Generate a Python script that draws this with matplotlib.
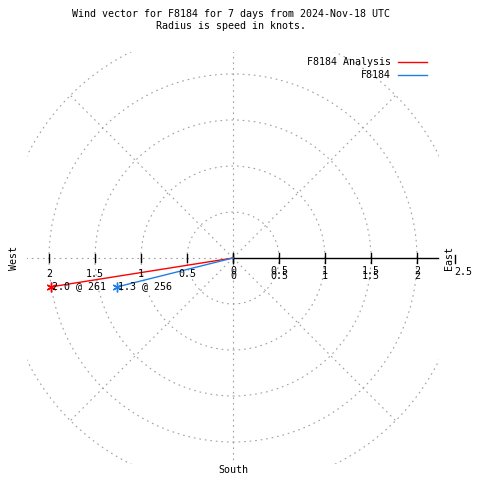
import matplotlib.pyplot as plt
import numpy as np
from matplotlib.lines import Line2D
from matplotlib.patches import Circle
from matplotlib.transforms import Bbox, TransformedBbox

# wind vectors: speed in knots, direction in compass degrees
series_names = ['F8184 Analysis', 'F8184']
speeds = [2.0, 1.3]
directions = [261, 256]
colors = ['#ff0000', '#1e80e6']

ring_radii = [0.5, 1.0, 1.5, 2.0, 2.5]
tick_values = [0.5, 1, 1.5, 2]
tick_labels = ['0.5', '1', '1.5', '2']

title = 'Wind vector for F8184 for 7 days from 2024-Nov-18 UTC\nRadius is speed in knots.'

plt.rcParams['font.family'] = ['DejaVu Sans Mono']
FS = 7.2
PX = 1 / 92  # one pixel in data units
GRID = '#a0a0a0'
DASH = (0, (1.5, 3.5))

fig = plt.figure(figsize=(4.8, 4.8), dpi=100)
ax = fig.add_axes([0, 0, 1, 1])
ax.set_xlim(-233 * PX, 247 * PX)
ax.set_ylim(-222 * PX, 258 * PX)
ax.axis('off')

lim = 2.24
clip = TransformedBbox(Bbox([[-lim, -lim], [lim, lim]]), ax.transData)

# polar grid
for r in ring_radii:
    c = Circle((0, 0), r, fill=False, ec=GRID, ls=DASH, lw=0.8)
    ax.add_patch(c)
    c.set_clip_box(clip)
for a in range(45, 360, 45):
    t = np.radians(a)
    ln, = ax.plot([0, 2.5 * np.cos(t)], [0, 2.5 * np.sin(t)], color=GRID, ls=DASH, lw=0.8)
    ln.set_clip_box(clip)

# radial axis towards east
ax.plot([0, 2.23], [0, 0], color='black', lw=1)
for v in [0] + tick_values:
    ax.plot([v, v], [-5 * PX, 5 * PX], color='black', lw=1)
    ax.plot([-v, -v], [-4 * PX, 4 * PX], color='black', lw=1)
# gnuplot draws the east labels twice, slightly offset
for v, lab in zip([0] + tick_values, ['0'] + tick_labels):
    for dy in (13, 18):
        ax.text(v, -dy * PX, lab, fontsize=FS, ha='center', va='center')
for v, lab in zip(tick_values, tick_labels):
    ax.text(-v, -16 * PX, lab, fontsize=FS, ha='center', va='center')
ax.plot([222 * PX, 222 * PX], [-5 * PX, 3 * PX], color='black', lw=1)
ax.text(230 * PX, -14 * PX, '2.5', fontsize=FS, ha='center', va='center')

ax.text(216 * PX, 0, 'East', fontsize=FS, rotation=90, ha='center', va='center')
ax.text(-219 * PX, 0, 'West', fontsize=FS, rotation=90, ha='center', va='center')
ax.text(0, -212 * PX, 'South', fontsize=FS, ha='center', va='center')

# vectors
for s, d, col in zip(speeds, directions, colors):
    t = np.radians(d)
    x, y = s * np.sin(t), s * np.cos(t)
    ax.plot([0, x], [0, y], color=col, lw=1)
    ax.plot(x, y, marker=(6, 2, 0), color=col, ms=7, mew=1)
    ax.text(x + 1 * PX, y + 1 * PX, f'{s:.1f} @ {d}', fontsize=FS, ha='left', va='center')

fig.text(0.482, 1 - 20 / 480, title, fontsize=FS, ha='center', va='center', linespacing=1.3)

# legend
for i, (name, col) in enumerate(zip(series_names, colors)):
    yy = 1 - (62 + 13 * i) / 480
    fig.text(391 / 480, yy, name, fontsize=FS, ha='right', va='center')
    fig.add_artist(Line2D([398 / 480, 427 / 480], [yy, yy], color=col, lw=1))

fig.savefig('out.png', dpi=100)
